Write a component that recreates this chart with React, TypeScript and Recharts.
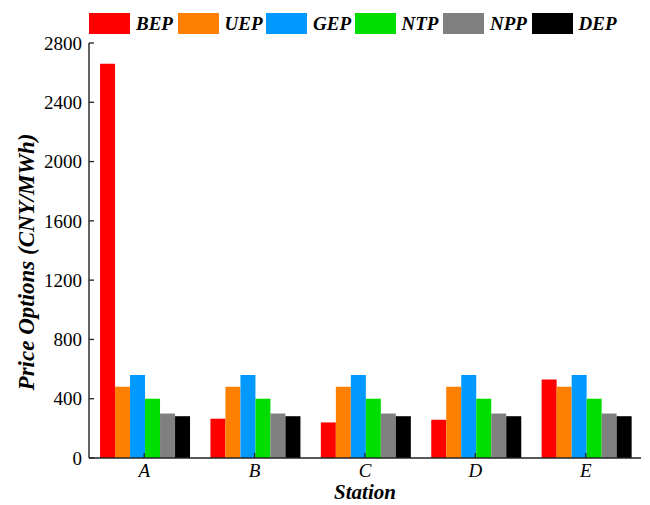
import React from 'react';
import { BarChart, Bar, XAxis, YAxis } from 'recharts';

const categories = ['A', 'B', 'C', 'D', 'E'];
const BEP = [2660, 265, 240, 258, 530];
const UEP = [480, 480, 480, 480, 480];
const GEP = [560, 560, 560, 560, 560];
const NTP = [400, 400, 400, 400, 400];
const NPP = [300, 300, 300, 300, 300];
const DEP = [282, 282, 282, 282, 282];
const yTicks = [0, 400, 800, 1200, 1600, 2000, 2400, 2800];
const yMinorTicks = [200, 600, 1000, 1400, 1800, 2200, 2600];
const xMinorTicks = [1, 2, 3, 4];

const series = [
  { key: 'BEP', values: BEP, color: '#FF0000' },
  { key: 'UEP', values: UEP, color: '#FF8000' },
  { key: 'GEP', values: GEP, color: '#0099FF' },
  { key: 'NTP', values: NTP, color: '#00DD00' },
  { key: 'NPP', values: NPP, color: '#808080' },
  { key: 'DEP', values: DEP, color: '#000000' },
];

const data = categories.map((c, i) => {
  const row: any = { station: c };
  series.forEach((s) => {
    row[s.key] = s.values[i];
  });
  return row;
});

const FONT = '"Liberation Serif", "Times New Roman", Times, serif';
const AXIS = '#222';

const YLabel = () => {
  const cx = 26;
  const cy = 262;
  return (
    <text
      x={cx}
      y={cy}
      transform={`rotate(-90, ${cx}, ${cy})`}
      textAnchor="middle"
      dominantBaseline="central"
      fontFamily={FONT}
      fontWeight="bold"
      fontStyle="italic"
      fontSize={23}
      fill="#000"
    >
      Price Options (CNY/MWh)
    </text>
  );
};

const XLabel = (props: any) => {
  const vb = props.viewBox || {};
  return (
    <text
      x={vb.x + vb.width / 2}
      y={499}
      textAnchor="middle"
      fontFamily={FONT}
      fontWeight="bold"
      fontStyle="italic"
      fontSize={21}
      fill="#000"
    >
      Station
    </text>
  );
};

export default function App() {
  return (
    <div style={{ position: 'absolute', left: 0, top: 0, width: 650, height: 505, background: '#fff' }}>
      <BarChart
        width={650}
        height={505}
        data={data}
        margin={{ top: 43, right: 9, left: 0, bottom: 0 }}
        barCategoryGap="10%"
        barGap={0}
      >
        <XAxis
          xAxisId="minor"
          type="number"
          domain={[0, 5]}
          ticks={xMinorTicks}
          allowDataOverflow
          height={0}
          tick={false}
          axisLine={false}
          tickSize={-3}
          tickLine={{ stroke: AXIS, strokeWidth: 1.3 }}
        />
        <XAxis
          xAxisId="main"
          dataKey="station"
          height={47}
          tickSize={-5}
          tickMargin={11}
          axisLine={{ stroke: AXIS, strokeWidth: 1.4 }}
          tickLine={{ stroke: AXIS, strokeWidth: 1.3 }}
          tick={{ fill: '#000', fontSize: 19, fontFamily: FONT, fontStyle: 'italic' }}
          label={<XLabel />}
        />
        <YAxis
          yAxisId="minor"
          domain={[0, 2800]}
          ticks={yMinorTicks}
          allowDataOverflow
          width={0}
          tick={false}
          axisLine={false}
          tickSize={-3}
          tickLine={{ stroke: AXIS, strokeWidth: 1.3 }}
        />
        <YAxis
          yAxisId="main"
          domain={[0, 2800]}
          ticks={yTicks}
          interval={0}
          width={89}
          tickSize={-5}
          tickMargin={12}
          axisLine={{ stroke: AXIS, strokeWidth: 1.4 }}
          tickLine={{ stroke: AXIS, strokeWidth: 1.3 }}
          tick={{ fill: '#000', fontSize: 19, fontFamily: FONT }}
          label={<YLabel />}
        />
        {series.map((s) => (
          <Bar
            key={s.key}
            dataKey={s.key}
            xAxisId="main"
            yAxisId="main"
            fill={s.color}
            isAnimationActive={false}
          />
        ))}
      </BarChart>
      {series.map((s, i) => (
        <div
          key={s.key}
          style={{ position: 'absolute', left: 89 + i * 88.5, top: 13, height: 21, display: 'flex', alignItems: 'center' }}
        >
          <div style={{ width: 41, height: 21, background: s.color }} />
          <span
            style={{
              marginLeft: 6,
              fontFamily: FONT,
              fontWeight: 'bold',
              fontStyle: 'italic',
              fontSize: 19,
              lineHeight: '21px',
              color: '#000',
            }}
          >
            {s.key}
          </span>
        </div>
      ))}
    </div>
  );
}
